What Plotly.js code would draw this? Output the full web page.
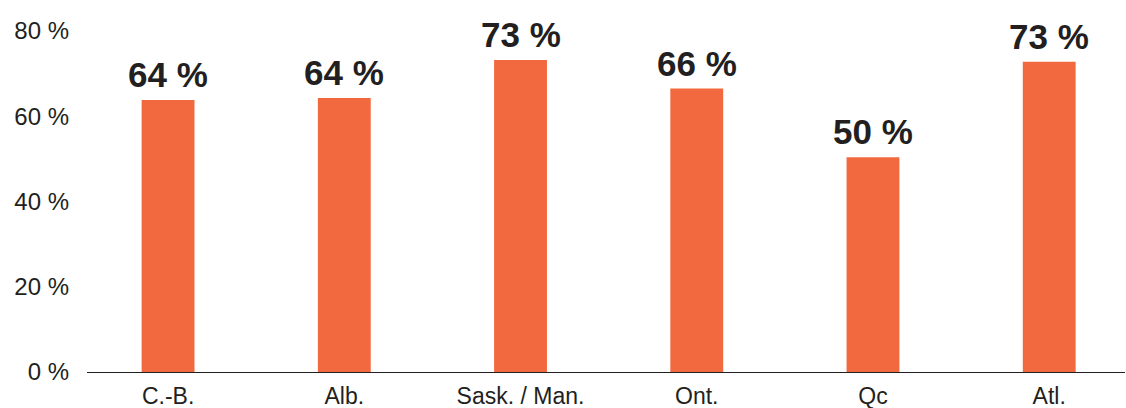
<!DOCTYPE html>
<html>
<head>
<meta charset="utf-8">
<script src="https://cdn.plot.ly/plotly-3.0.1.min.js"></script>
<style>
  html, body { margin: 0; padding: 0; background: #ffffff; }
  #chart { width: 1126px; height: 408px; }
</style>
</head>
<body>
<div id="chart"></div>
<script>
const categories = ["C.-B.", "Alb.", "Sask. / Man.", "Ont.", "Qc", "Atl."];
const values = [63.8, 64.3, 73.2, 66.5, 50.4, 72.8];
const valueLabels = ["64 %", "64 %", "73 %", "66 %", "50 %", "73 %"];
const yTickValues = [0, 20, 40, 60, 80];
const yTickLabels = ["0 %", "20 %", "40 %", "60 %", "80 %"];

const barColor = "#F2693F";
const textColor = "#231F20";
const fontFamily = "'Liberation Sans', Arial, Helvetica, sans-serif";

const trace = {
  type: "bar",
  x: categories,
  y: values,
  width: 0.3,
  marker: { color: barColor, line: { width: 0 } },
  hoverinfo: "skip"
};

const annotations = categories.map((c, i) => ({
  x: c,
  y: values[i],
  xref: "x",
  yref: "y",
  text: "<b>" + valueLabels[i] + "</b>",
  showarrow: false,
  yanchor: "bottom",
  xanchor: "center",
  yshift: 4,
  font: { family: fontFamily, size: 35, color: textColor }
}));

const layout = {
  width: 1126,
  height: 408,
  margin: { l: 87, r: 1, t: 31, b: 36, pad: 0 },
  paper_bgcolor: "#ffffff",
  plot_bgcolor: "#ffffff",
  showlegend: false,
  bargap: 0.7,
  font: { family: fontFamily, size: 23, color: textColor },
  xaxis: {
    type: "category",
    range: [-0.46, 5.43],
    showline: true,
    linecolor: textColor,
    linewidth: 1.2,
    ticks: "",
    showgrid: false,
    zeroline: false,
    tickfont: { family: fontFamily, size: 23, color: textColor },
    ticklabelstandoff: 3
  },
  yaxis: {
    range: [0, 80],
    tickvals: yTickValues,
    ticktext: yTickLabels,
    showline: false,
    showgrid: false,
    zeroline: false,
    ticks: "",
    tickfont: { family: fontFamily, size: 24, color: textColor },
    ticklabelstandoff: 17
  },
  annotations: annotations
};

Plotly.newPlot("chart", [trace], layout, { displayModeBar: false, staticPlot: true });
</script>
</body>
</html>
